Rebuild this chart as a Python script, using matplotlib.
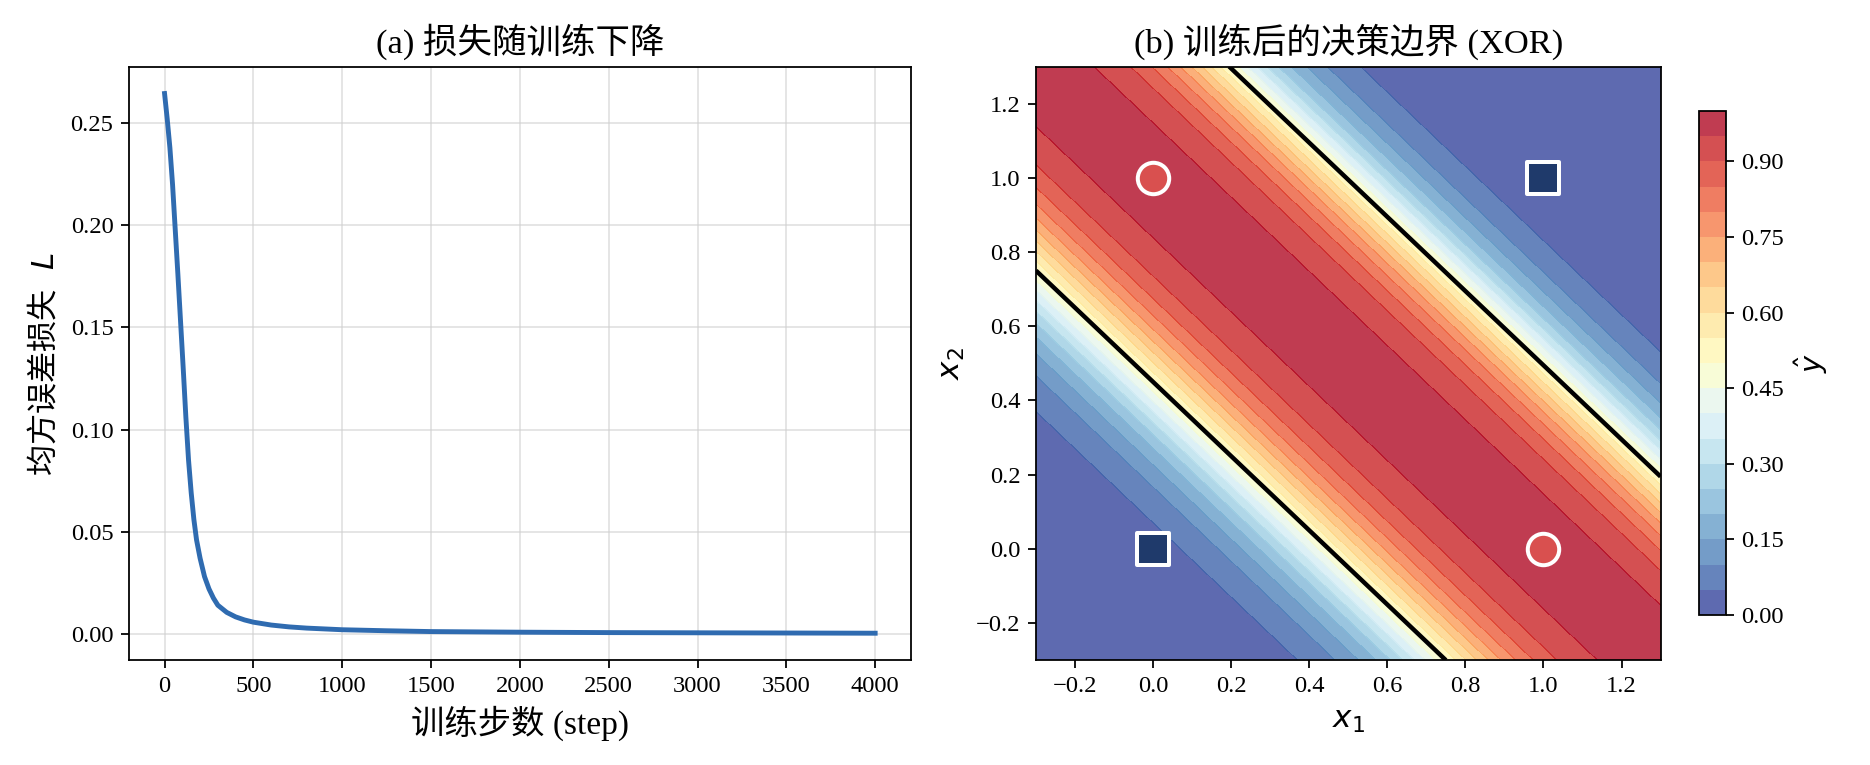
import numpy as np
import matplotlib
matplotlib.use('Agg')
import matplotlib.pyplot as plt

plt.rcParams['font.family'] = ['Liberation Serif', 'Noto Sans CJK SC', 'DejaVu Sans']
plt.rcParams['mathtext.fontset'] = 'dejavusans'
# used only for the chinese y label that mixes text and math
plt.rcParams['mathtext.rm'] = 'Noto Sans CJK SC'
plt.rcParams['mathtext.it'] = 'DejaVu Sans:italic'
plt.rcParams['mathtext.bf'] = 'DejaVu Sans:bold'

# loss curve
steps = [0, 15, 30, 45, 60, 75, 90, 105, 120, 135, 150, 165, 180, 200, 225, 250,
         275, 300, 350, 400, 450, 500, 600, 700, 800, 1000, 1250, 1500, 2000,
         2500, 3000, 3500, 4000]
loss = [0.2645, 0.252, 0.238, 0.220, 0.198, 0.176, 0.153, 0.130, 0.106, 0.085,
        0.069, 0.056, 0.046, 0.037, 0.028, 0.022, 0.0175, 0.014, 0.0105, 0.0083,
        0.0068, 0.0057, 0.0043, 0.0034, 0.0028, 0.0020, 0.0015, 0.0011, 0.0008,
        0.0006, 0.0005, 0.0004, 0.0003]

# trained model output: yhat = sig(k_lo*(s-c_lo)) * sig(k_hi*(c_hi-s)), s = x1 + x2
band_centers = [0.45, 1.495]
band_slopes = [7.75, 8.76]

# XOR points
pts_x1 = [0, 1, 0, 1]
pts_x2 = [0, 0, 1, 1]
pts_label = [0, 1, 1, 0]

colorbar_ticks = [0.0, 0.15, 0.30, 0.45, 0.60, 0.75, 0.90]


def sig(z):
    return 1 / (1 + np.exp(-z))


fig = plt.figure(figsize=(1870 / 160, 765 / 160), dpi=160)
ax1 = fig.add_axes([0.069, 0.137, 0.418, 0.776])
ax2 = fig.add_axes([0.554, 0.137, 0.334, 0.776])
cax = fig.add_axes([0.9086, 0.196, 0.0144, 0.659])

# (a)
ax1.plot(steps, loss, color='#2f6bb0', lw=2.2)
ax1.grid(True, color='#d0d0d0', alpha=0.6, lw=0.8)
ax1.set_xticks(range(0, 4001, 500))
ax1.set_yticks([0.0, 0.05, 0.10, 0.15, 0.20, 0.25])
ax1.set_xlabel('训练步数 (step)', fontsize=15)
ax1.set_ylabel(r'$\mathrm{均方误差损失}\ \ L$', fontsize=14, math_fontfamily='custom')
ax1.set_title('(a) 损失随训练下降', fontsize=15.5)
ax1.tick_params(labelsize=11)

# (b)
gx = np.linspace(-0.3, 1.3, 400)
X1, X2 = np.meshgrid(gx, gx)
S = X1 + X2
Y = sig(band_slopes[0] * (S - band_centers[0])) * sig(band_slopes[1] * (band_centers[1] - S))

levels = np.linspace(0, 1, 21)
cf = ax2.contourf(X1, X2, Y, levels=levels, cmap='RdYlBu_r', alpha=0.8)
ax2.contour(X1, X2, Y, levels=[0.5], colors='black', linewidths=2.0)

for a, b, lab in zip(pts_x1, pts_x2, pts_label):
    if lab == 1:
        ax2.scatter(a, b, s=200, marker='o', color='#d9504f', edgecolors='white', linewidths=1.8, zorder=5)
    else:
        ax2.scatter(a, b, s=200, marker='s', color='#1f3a6b', edgecolors='white', linewidths=1.8, zorder=5)

ax2.set_xlim(-0.3, 1.3)
ax2.set_ylim(-0.3, 1.3)
ax2.set_xticks(np.arange(-0.2, 1.21, 0.2))
ax2.set_yticks(np.arange(-0.2, 1.21, 0.2))
ax2.set_xlabel('$x_1$', fontsize=14)
ax2.set_ylabel('$x_2$', fontsize=14)
ax2.set_title('(b) 训练后的决策边界 (XOR)', fontsize=15.5)
ax2.tick_params(labelsize=11)

cb = fig.colorbar(cf, cax=cax, ticks=colorbar_ticks)
cb.set_label(r'$\hat{y}$', fontsize=13)
cb.ax.tick_params(labelsize=11)
cb.ax.set_yticklabels(['%.2f' % t for t in colorbar_ticks])

fig.savefig('out.png', dpi=160)
